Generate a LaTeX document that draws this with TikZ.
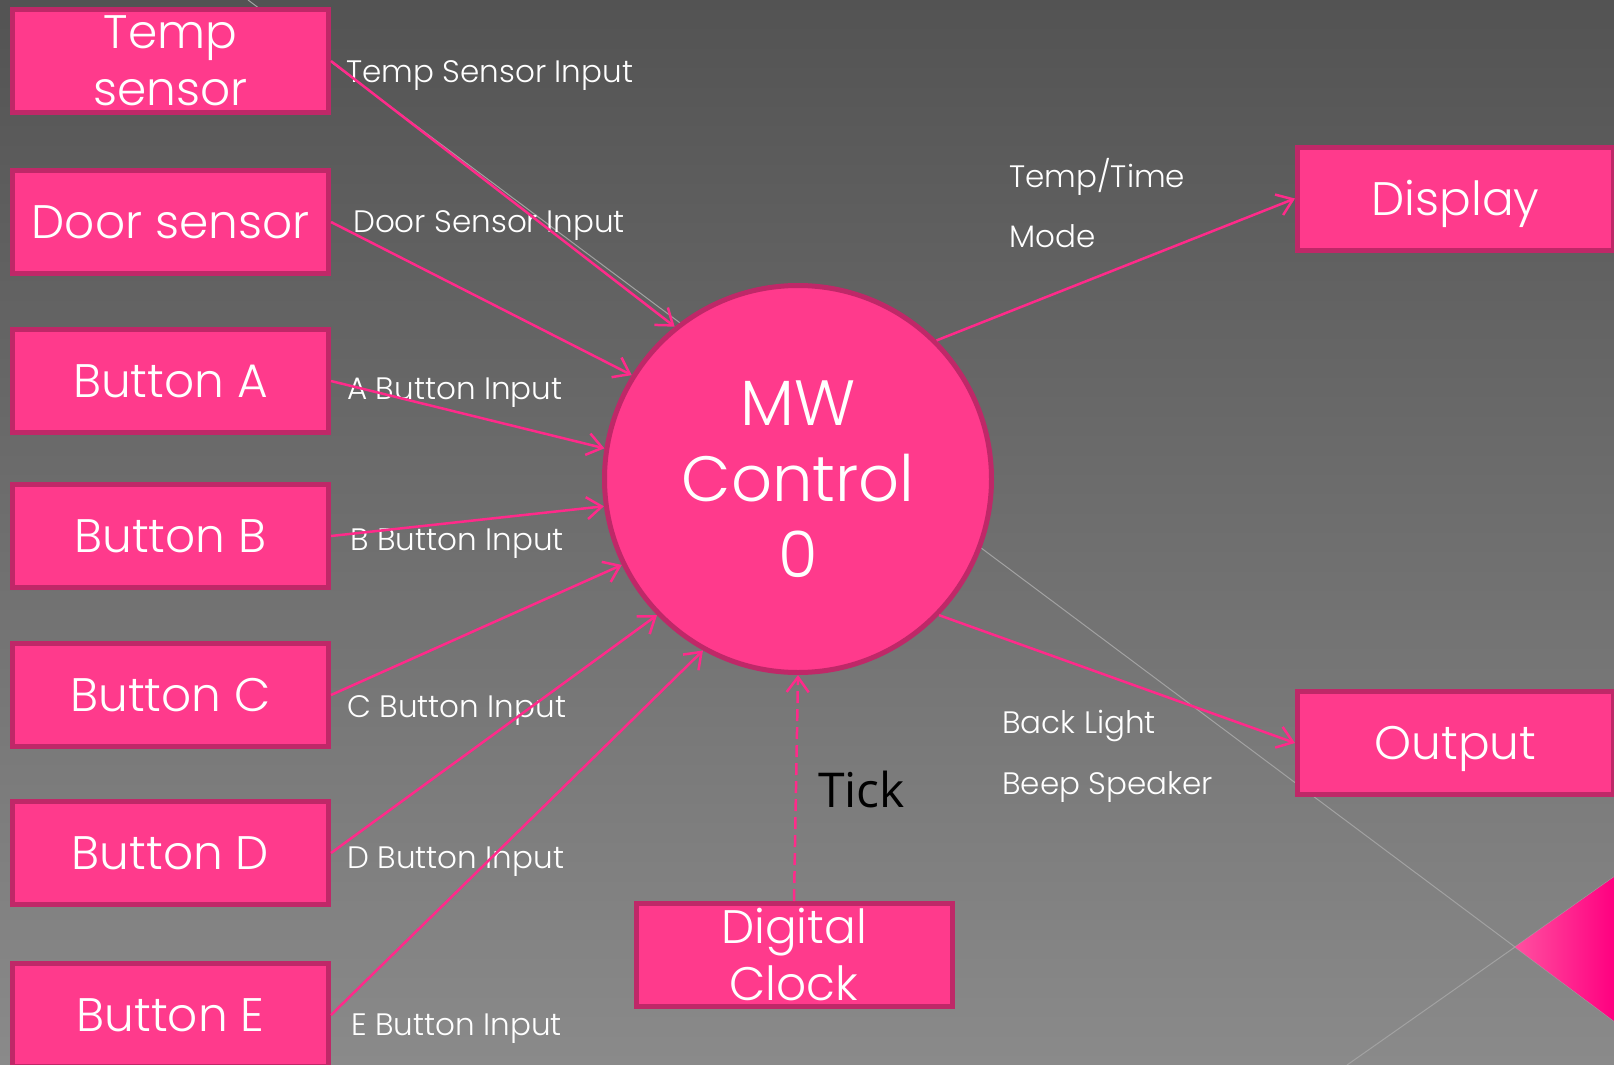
\documentclass[tikz,border=0pt]{standalone}
\usepackage{fontspec}
\usetikzlibrary{arrows.meta}
\IfFontExistsTF{Poppins Light}
  {\newfontfamily\gothic{Poppins Light}}
  {\newfontfamily\gothic{Poppins}}
\newfontfamily\tickfont{Open Sans}
\definecolor{bgtop}{HTML}{535353}
\definecolor{bgbottom}{HTML}{8A8A8A}
\definecolor{boxfill}{HTML}{FF3A8C}
\definecolor{boxedge}{HTML}{BF2868}
\definecolor{flowpink}{HTML}{FF2A8A}
\definecolor{hairline}{HTML}{A2A2A2}
\definecolor{cornerlight}{HTML}{FF50A0}
\definecolor{cornerdark}{HTML}{FF0080}
\tikzset{
  unit/.style={rectangle, draw=boxedge, fill=boxfill, line width=5pt,
    minimum width=316pt, minimum height=103pt, inner sep=0pt,
    text=white, align=center, font=\gothic\fontsize{47}{57}\selectfont},
  oneline/.style={text height=33pt, text depth=0pt},
  flow/.style={draw=flowpink, line width=2.5pt,
    -{Straight Barb[length=15pt,width=22pt]}},
  lbl/.style={anchor=base west, inner sep=0pt, text=white,
    font=\gothic\fontsize{31}{36}\selectfont}
}
\begin{document}
\begin{tikzpicture}[x=1pt, y=-1pt]
    \useasboundingbox (0,0) rectangle (1614,1065);
    % background
    \shade[top color=bgtop, bottom color=bgbottom] (0,0) rectangle (1614,1065);
    \draw[hairline, line width=1pt] (248,0) -- (1515,947) -- (1614,1021);
    \draw[hairline, line width=1pt] (1347,1065) -- (1515,947) -- (1614,877);
    \shade[left color=cornerlight, right color=cornerdark] (1515,947) -- (1614,877) -- (1614,1021) -- cycle;

    \node (temp) [unit] at (170.5,61) {Temp\\sensor};
    \node (door) [unit, oneline] at (170.5,222) {Door sensor};
    \node (btna) [unit, oneline] at (170.5,381) {Button A};
    \node (btnb) [unit, oneline] at (170.5,536) {Button B};
    \node (btnc) [unit, oneline] at (170.5,695) {Button C};
    \node (btnd) [unit, oneline] at (170.5,853) {Button D};
    \node (btne) [unit, oneline] at (170.5,1015) {Button E};
    \node (mw) [circle, draw=boxedge, fill=boxfill, line width=5pt, minimum size=387pt, inner sep=0pt, text=white, align=center, font=\gothic\fontsize{64}{76}\selectfont] at (798,479) {MW\\Control\\0};
    \node (display) [unit, oneline] at (1455.5,198.5) {Display};
    \node (output) [unit, oneline] at (1455.5,743) {Output};
    \node (clock) [unit] at (794,955) {Digital\\Clock};

    \node (lbltemp) [lbl] at (346,82) {Temp Sensor Input};
    \node (lbldoor) [lbl] at (353,232) {Door Sensor Input};
    \node (lbla) [lbl] at (347,399) {A Button Input};
    \node (lblb) [lbl] at (350,550) {B Button Input};
    \node (lblc) [lbl] at (347,717) {C Button Input};
    \node (lbld) [lbl] at (347,868) {D Button Input};
    \node (lble) [lbl] at (351,1035) {E Button Input};
    \node (lbltime) [lbl] at (1009,187) {Temp/Time};
    \node (lblmode) [lbl] at (1009,247) {Mode};
    \node (lbllight) [lbl] at (1002,733) {Back Light};
    \node (lblbeep) [lbl] at (1002,794) {Beep Speaker};
    \node (lbltick) [anchor=base west, inner sep=0pt, font=\tickfont\fontsize{48}{56}\selectfont] at (818,807) {Tick};

    % arrows
    \draw[flow] (temp.east) -- (mw.129);
    \draw[flow] (door.east) -- (mw.148);
    \draw[flow] (btna.east) -- (mw.171);
    \draw[flow] (btnb.east) -- (mw.188);
    \draw[flow] (btnc.east) -- (mw.206);
    \draw[flow] (btnd.east) -- (mw.224);
    \draw[flow] (btne.east) -- (mw.241);
    \draw[flow] (mw.45) -- (display.west);
    \draw[flow] (mw.316) -- (output.west);
    \draw[flow, dash pattern=on 12pt off 6pt] (clock.north) -- (mw.south);
\end{tikzpicture}
\end{document}
